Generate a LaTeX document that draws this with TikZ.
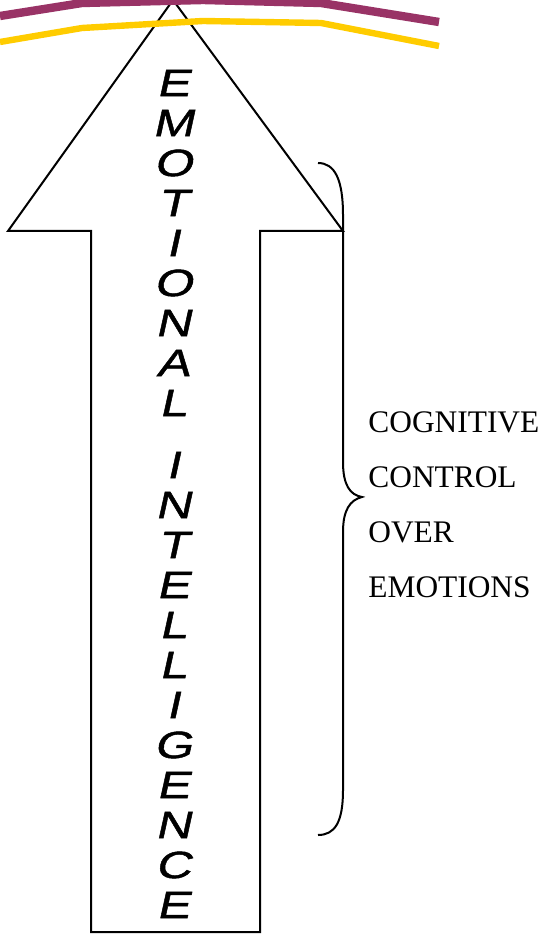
\documentclass[tikz,border=0pt]{standalone}
\usepackage{fontspec}
\setmainfont{Liberation Serif}
\newfontfamily\handfont[FakeSlant=0.22,FakeStretch=1.3,FakeBold=1.2]{Liberation Sans}
\definecolor{plum}{RGB}{153,51,102}
\definecolor{gold}{RGB}{255,204,0}
\tikzset{
  letter/.style={font=\handfont\fontsize{19pt}{19pt}\selectfont,inner sep=0pt},
  label/.style={font=\fontsize{15.7pt}{15.7pt}\selectfont,anchor=base west,inner sep=0pt}
}
\begin{document}
\begin{tikzpicture}[x=0.5pt,y=-0.5pt]
    \useasboundingbox (0,0) rectangle (545,935);
    \draw[line width=1pt,fill=white] (173,0) -- (343,231) -- (260,231) -- (260,932)
    -- (91,932) -- (91,231) -- (8,231) -- cycle;
    \draw[gold,line width=3.2pt] (0,42) -- (82,28) -- (203,21) -- (321,23) -- (439,46);
    \draw[plum,line width=4.2pt] (0,16) -- (82,3) -- (203,0) -- (321,3) -- (439,22);
    \foreach \ch [count=\i from 0] in {E,M,O,T,I,O,N,A,L}
      \node[letter] (emo\i) at (173,83+40*\i) {\ch};
    \foreach \ch [count=\i from 0] in {I,N,T,E,L,L,I,G,E,N,C,E}
      \node[letter] (int\i) at (173,465+40*\i) {\ch};
    \draw[line width=1pt] (318,163) .. controls (335,163) and (343,180) .. (343,215)
    -- (343,462) .. controls (343,485) and (350,495) .. (362,497)
    .. controls (350,500) and (343,510) .. (343,532)
    -- (343,790) .. controls (343,822) and (335,835) .. (318,835);
    \foreach \txt [count=\i from 0] in {COGNITIVE,CONTROL,OVER,EMOTIONS}
      \node[label] (ctl\i) at (368,432+55*\i) {\txt};
\end{tikzpicture}
\end{document}
